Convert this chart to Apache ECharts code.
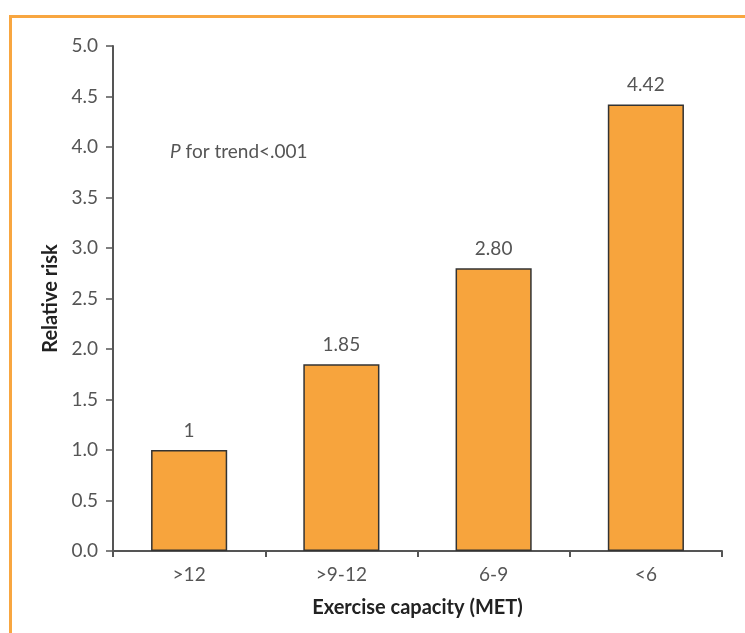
<!DOCTYPE html>
<html><head><meta charset="utf-8">
<script src="https://cdn.jsdelivr.net/npm/echarts@6/dist/echarts.min.js"></script>
<style>html,body{margin:0;padding:0;background:#fff}#c{width:745px;height:633px}</style>
</head><body><div id="c"></div>
<script>
const categories = ['>12', '>9-12', '6-9', '<6'];
const relativeRisk = [1, 1.85, 2.80, 4.42];
const valueLabels = ['1', '1.85', '2.80', '4.42'];
const yTicks = [0, 0.5, 1, 1.5, 2, 2.5, 3, 3.5, 4, 4.5, 5];

const chart = echarts.init(document.getElementById('c'));
const font = 'Lato, "Open Sans", sans-serif';
chart.setOption({
  animation: false,
  grid: {left: 113, right: 23, top: 46, bottom: 82},
  xAxis: {
    type: 'category', data: categories,
    name: 'Exercise capacity (MET)', nameLocation: 'middle', nameGap: 47,
    nameTextStyle: {fontFamily: font, fontWeight: 'bold', fontSize: 20, color: '#222'},
    axisLine: {lineStyle: {color: '#555', width: 2}},
    axisTick: {show: true, length: 6, lineStyle: {color: '#555', width: 2}},
    axisLabel: {fontFamily: font, fontSize: 19, color: '#555', margin: 14}
  },
  yAxis: {
    type: 'value', min: 0, max: 5, interval: 0.5,
    name: 'Relative risk', nameLocation: 'middle', nameGap: 47,
    nameTextStyle: {fontFamily: font, fontWeight: 'bold', fontSize: 20, color: '#222'},
    splitLine: {show: false},
    axisLine: {show: true, lineStyle: {color: '#555', width: 2}},
    axisTick: {show: true, length: 7, lineStyle: {color: '#555', width: 1.5}},
    axisLabel: {fontFamily: font, fontSize: 19, color: '#555', margin: 15,
      formatter: v => v.toFixed(1)}
  },
  series: [{
    type: 'bar', data: relativeRisk, barWidth: '50%',
    itemStyle: {color: '#f7a43d', borderColor: '#333', borderWidth: 1.5},
    label: {show: true, position: 'top', distance: 10, fontFamily: font, fontSize: 19, color: '#555',
      formatter: p => valueLabels[p.dataIndex]}
  }],
  graphic: [
    {type: 'rect', shape: {x: 9, y: 15, width: 740, height: 3}, style: {fill: '#f8a640'}},
    {type: 'rect', shape: {x: 9, y: 15, width: 3, height: 640}, style: {fill: '#f8a640'}},
    {type: 'text', left: 170, top: 142, style: {
      text: '{i|P} for trend<.001',
      rich: {i: {fontStyle: 'italic', fontFamily: font, fontSize: 19, fill: '#555'}},
      fontFamily: font, fontSize: 19, fill: '#555'}}
  ]
});
</script></body></html>
